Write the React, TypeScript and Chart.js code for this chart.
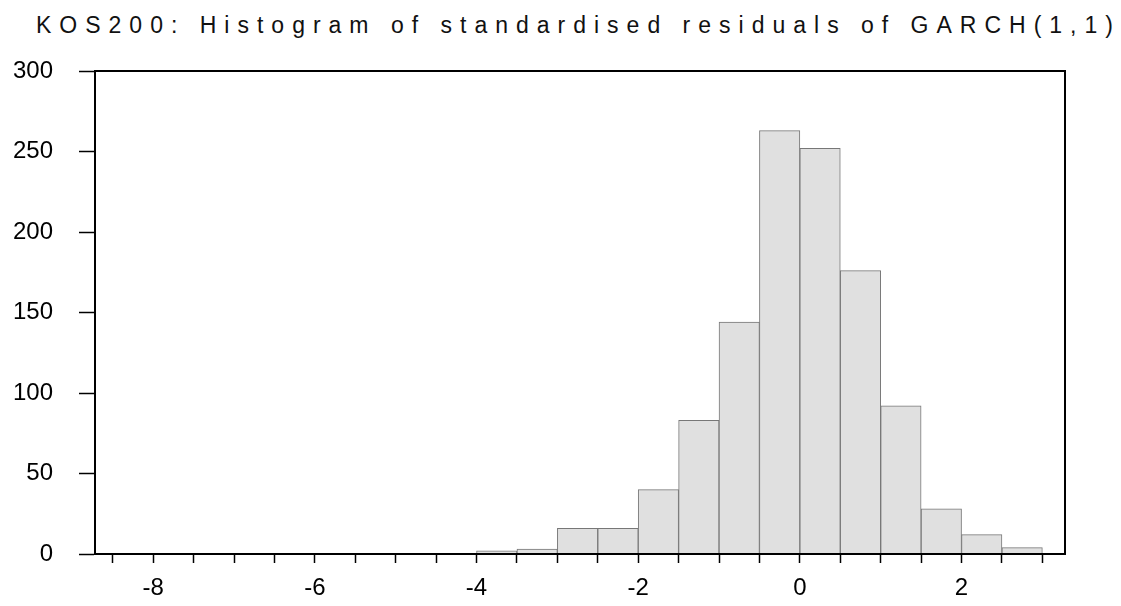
import React, { useEffect, useRef } from 'react';
import { Chart, registerables } from 'chart.js';

Chart.register(...registerables);

const titleText = 'KOS200: Histogram of standardised residuals of GARCH(1,1)';
const binCenters = [-3.75, -3.25, -2.75, -2.25, -1.75, -1.25, -0.75, -0.25, 0.25, 0.75, 1.25, 1.75, 2.25, 2.75];
const counts = [2, 3, 16, 16, 40, 83, 144, 263, 252, 176, 92, 28, 12, 4];
const xTickValues = [-8.5, -8, -7.5, -7, -6.5, -6, -5.5, -5, -4.5, -4, -3.5, -3, -2.5, -2, -1.5, -1, -0.5, 0, 0.5, 1, 1.5, 2, 2.5, 3];
const xLabelValues = [-8, -6, -4, -2, 0, 2];
const yTickValues = [0, 50, 100, 150, 200, 250, 300];
const xMin = -8.72;
const xMax = 3.28;
const yMin = 0;
const yMax = 300;

const framePlugin = {
  id: 'frame',
  afterDraw(chart: any) {
    const { ctx, chartArea } = chart;
    ctx.save();
    ctx.strokeStyle = '#000';
    ctx.lineWidth = 2;
    ctx.strokeRect(chartArea.left, chartArea.top, chartArea.right - chartArea.left, chartArea.bottom - chartArea.top);
    ctx.restore();
  },
};

export default function App() {
  const ref = useRef<HTMLCanvasElement | null>(null);

  useEffect(() => {
    if (!ref.current) return;
    const chart = new Chart(ref.current, {
      type: 'bar',
      data: {
        datasets: [
          {
            data: binCenters.map((x, i) => ({ x, y: counts[i] })),
            backgroundColor: '#e0e0e0',
            borderColor: '#777777',
            borderWidth: 1,
            barPercentage: 1,
            categoryPercentage: 1,
          },
        ],
      },
      plugins: [framePlugin],
      options: {
        animation: false,
        responsive: false,
        devicePixelRatio: 1,
        layout: { padding: { top: 71, right: 56, left: 0, bottom: 0 } },
        plugins: { legend: { display: false }, tooltip: { enabled: false }, title: { display: false } },
        scales: {
          x: {
            type: 'linear',
            min: xMin,
            max: xMax,
            offset: false,
            afterBuildTicks: (s: any) => {
              s.ticks = xTickValues.map((v) => ({ value: v }));
            },
            afterFit: (s: any) => {
              s.height = 52;
            },
            ticks: {
              autoSkip: false,
              maxRotation: 0,
              padding: 11,
              color: '#000',
              font: { family: 'Liberation Sans', size: 24 },
              callback: (v: any) => (xLabelValues.includes(Number(v)) ? String(v) : ''),
            },
            grid: { drawOnChartArea: false, offset: false, tickLength: 9, tickColor: '#000', tickWidth: 1.5 },
            border: { display: true, color: '#000', width: 2 },
          },
          y: {
            min: yMin,
            max: yMax,
            afterBuildTicks: (s: any) => {
              s.ticks = yTickValues.map((v) => ({ value: v }));
            },
            afterFit: (s: any) => {
              s.width = 95;
            },
            ticks: {
              padding: 26,
              color: '#000',
              font: { family: 'Liberation Sans', size: 24 },
            },
            grid: { drawOnChartArea: false, tickLength: 16, tickColor: '#000', tickWidth: 1.5 },
            border: { display: true, color: '#000', width: 2 },
          },
        },
      },
    });
    return () => chart.destroy();
  }, []);

  return (
    <div style={{ position: 'fixed', left: 0, top: 0, width: 1121, height: 606, background: '#fff' }}>
      <div
        style={{
          position: 'absolute',
          left: 36,
          top: 12,
          fontFamily: 'Liberation Sans',
          fontSize: 23,
          letterSpacing: '8px',
          color: '#111',
          whiteSpace: 'nowrap',
        }}
      >
        {titleText}
      </div>
      <canvas ref={ref} width={1121} height={606} style={{ position: 'absolute', left: 0, top: 0 }} />
    </div>
  );
}
